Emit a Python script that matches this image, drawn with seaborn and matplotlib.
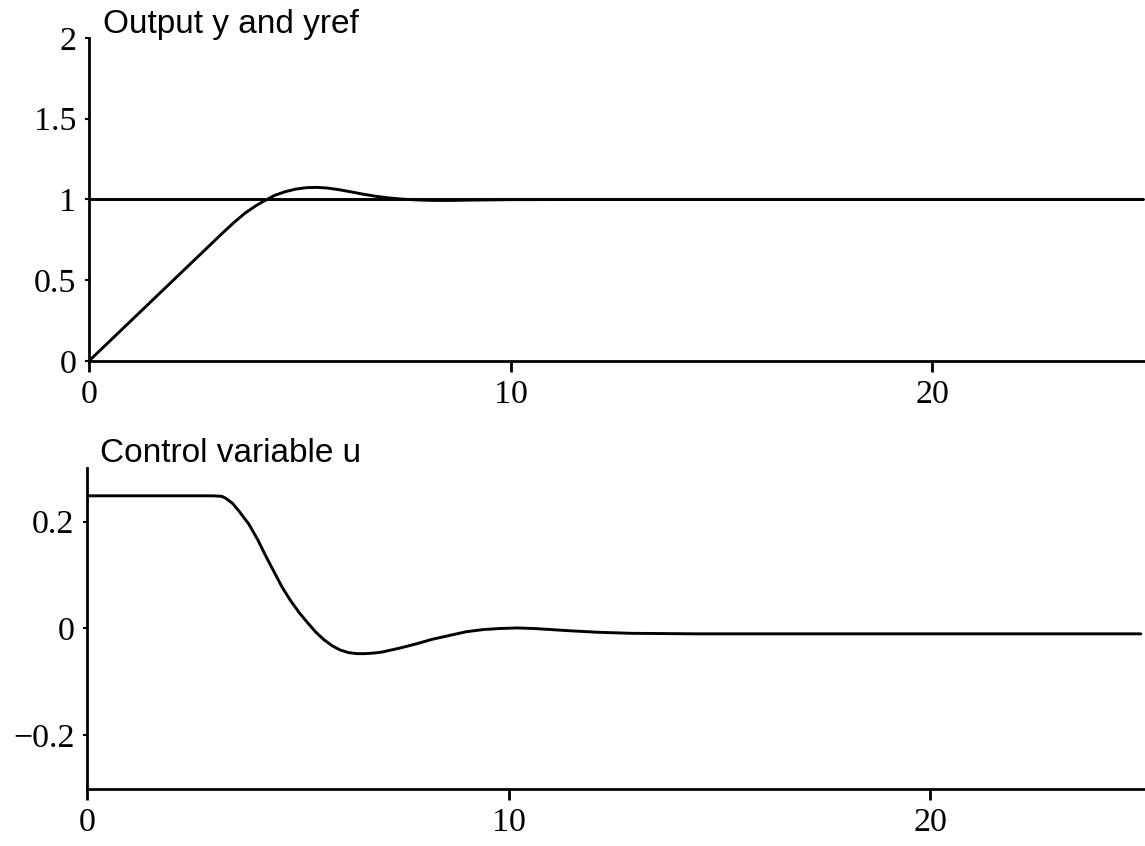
import matplotlib
matplotlib.use("Agg")
import matplotlib.pyplot as plt
import seaborn as sns
import pandas as pd

# ---- data ----
t_out = [0, 0.5, 1.0, 1.5, 2.0, 2.5, 3.0, 3.2, 3.45, 3.7, 3.95, 4.15, 4.4, 4.65,
         4.9, 5.15, 5.4, 5.65, 5.9, 6.2, 6.5, 6.8, 7.1, 7.4, 7.8, 8.2, 8.6,
         9.0, 10.0, 12.0, 15.0, 20.0, 25.0]
y_out = [0.0, 0.125, 0.25, 0.375, 0.5, 0.625, 0.75, 0.8, 0.86, 0.915, 0.96, 0.99,
         1.025, 1.048, 1.064, 1.073, 1.075, 1.071, 1.062, 1.048, 1.033, 1.02, 1.01,
         1.003, 0.997, 0.994, 0.994, 0.996, 0.999, 1.0, 1.0, 1.0, 1.0]

t_ref = [0.0, 25.0]
y_ref = [1.0, 1.0]

t_u = [0.0, 1.0, 2.0, 3.0, 3.2, 3.3, 3.45, 3.6, 3.84, 4.05, 4.25, 4.45, 4.63, 4.83,
       5.03, 5.23, 5.43, 5.62, 5.81, 6.0, 6.2, 6.4, 6.6, 6.8, 7.0, 7.4, 7.8,
       8.2, 8.6, 9.0, 9.4, 9.8, 10.2, 10.6, 11.0, 11.4, 12.1, 12.9, 14.5,
       20.0, 25.0]
u_val = [0.248, 0.248, 0.248, 0.248, 0.247, 0.243, 0.234, 0.220, 0.195, 0.166, 0.134,
         0.104, 0.077, 0.052, 0.030, 0.011, -0.007, -0.021, -0.032, -0.040,
         -0.045, -0.047, -0.047, -0.046, -0.044, -0.037, -0.029, -0.020, -0.013,
         -0.006, -0.002, 0.0, 0.001, 0.0, -0.002, -0.004, -0.007, -0.009, -0.010,
         -0.010, -0.010]

x_ticks = [0, 10, 20]
y_ticks_top = [0, 0.5, 1, 1.5, 2]
y_labels_top = ["0", "0.5", "1", "1.5", "2"]
y_ticks_bot = [-0.2, 0, 0.2]
y_labels_bot = ["\u22120.2", "0", "0.2"]

title_top = "Output y and yref"
title_bot = "Control variable u"

# ---- style ----
sns.set_style("ticks")
plt.rcParams["font.family"] = ["Liberation Serif", "DejaVu Serif"]

fig = plt.figure(figsize=(11.45, 8.46), dpi=100)
ax1 = fig.add_axes([0.0777, 0.5733, 0.9223, 0.3818])
ax2 = fig.add_axes([0.0760, 0.0674, 0.9240, 0.3794])

lw = 2.1
df_out = pd.DataFrame({"t": t_out, "y": y_out})
df_ref = pd.DataFrame({"t": t_ref, "y": y_ref})
df_u = pd.DataFrame({"t": t_u, "u": u_val})

sns.lineplot(data=df_ref, x="t", y="y", ax=ax1, color="black", linewidth=lw)
sns.lineplot(data=df_out, x="t", y="y", ax=ax1, color="black", linewidth=lw)
sns.lineplot(data=df_u, x="t", y="u", ax=ax2, color="black", linewidth=lw)

ax1.set_xlim(0, 25.05)
ax1.set_ylim(0, 2)
ax2.set_xlim(0, 25.1)
ax2.set_ylim(-0.3, 0.3)

ax1.set_yticks(y_ticks_top)
ax1.set_yticklabels(y_labels_top)
ax2.set_yticks(y_ticks_bot)
ax2.set_yticklabels(y_labels_bot)

for ax in (ax1, ax2):
    ax.set_xticks(x_ticks)
    ax.set_xticklabels([str(v) for v in x_ticks])
    ax.set_xlabel("")
    ax.set_ylabel("")
    for s in ("top", "right"):
        ax.spines[s].set_visible(False)
    for s in ("left", "bottom"):
        ax.spines[s].set_linewidth(2.0)
        ax.spines[s].set_color("black")
    ax.tick_params(axis="x", direction="out", length=8, width=2.0, pad=5,
                   labelsize=24.5, colors="black")
    ax.tick_params(axis="y", direction="out", length=3, width=1.5, pad=6,
                   labelsize=24.5, colors="black")
    ax.set_facecolor("white")

fig.text(103 / 1145, 1 - 33 / 846, title_top, family=["Liberation Sans", "DejaVu Sans"],
         fontsize=24, ha="left", va="baseline", color="black")
fig.text(100 / 1145, 1 - 462 / 846, title_bot, family=["Liberation Sans", "DejaVu Sans"],
         fontsize=24, ha="left", va="baseline", color="black")

fig.savefig("out.png", dpi=100, facecolor="white")
